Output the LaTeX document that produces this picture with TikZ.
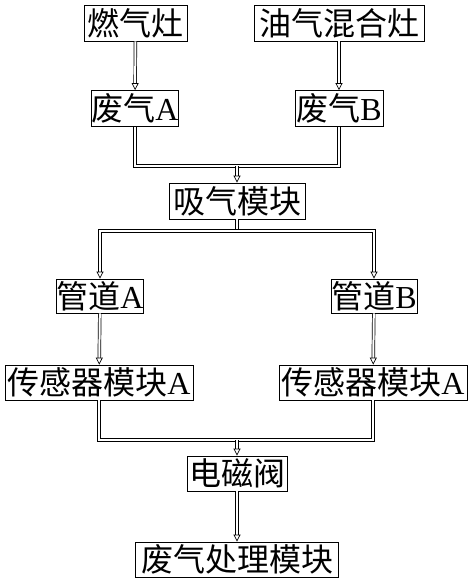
\documentclass[tikz,border=0pt]{standalone}
\usepackage{fontspec}
\setmainfont{Liberation Serif}
\newfontfamily\cjk{Noto Sans CJK SC}
\usepackage{tikz}
\usetikzlibrary{arrows.meta, positioning}
\tikzstyle{box} = [draw, line width=0.8pt, inner sep=0pt, minimum height=36pt, font=\fontsize{32}{32}\selectfont]
\tikzstyle{line} = [draw, line width=0.7pt, double, double distance=2pt]
\tikzstyle{arrow} = [line, -{Triangle[open, length=7pt, width=7pt]}]

\begin{document}
\begin{tikzpicture}[x=1pt, y=-1pt]
			\useasboundingbox (0,0) rectangle (474,583);
			\node [box, minimum width=103pt] (rq) at (135.5, 23) {\cjk 燃气灶};
			\node [box, minimum width=170pt] (yq) at (339, 23) {\cjk 油气混合灶};
			\node [box, minimum width=86pt] (fa) at (135, 108.5) {{\cjk 废气}A};
			\node [box, minimum width=88pt] (fb) at (339, 108.5) {{\cjk 废气}B};
			\node [box, minimum width=136pt] (xq) at (237, 201) {\cjk 吸气模块};
			\node [box, minimum width=86pt, minimum height=34pt] (ga) at (100, 296) {{\cjk 管道}A};
			\node [box, minimum width=86pt, minimum height=34pt] (gb) at (374, 296) {{\cjk 管道}B};
			\node [box, minimum width=188pt, minimum height=35pt] (sa) at (99, 382.5) {{\cjk 传感器模块}A};
			\node [box, minimum width=188pt, minimum height=35pt] (sb) at (373, 382.5) {{\cjk 传感器模块}A};
			\node [box, minimum width=100pt, minimum height=35pt] (dc) at (237, 473.5) {\cjk 电磁阀};
			\node [box, minimum width=203pt, minimum height=35pt] (cl) at (237, 559.5) {\cjk 废气处理模块};

			\coordinate (m1) at (237, 166);
			\coordinate (m2) at (237, 231);
			\coordinate (m3) at (237, 440);

			\path [arrow] (rq) -- (fa);
			\path [arrow] (yq) -- (fb);
			\path [line] (fa) |- (m1) -| (fb);
			\path [arrow] (m1) -- (xq);
			\path [line] (xq) -- (m2);
			\path [arrow] (m2) -| (ga);
			\path [arrow] (m2) -| (gb);
			\path [arrow] (ga) -- (sa);
			\path [arrow] (gb) -- (sb);
			\path [line] (sa) |- (m3) -| (sb);
			\path [arrow] (m3) -- (dc);
			\path [arrow] (dc) -- (cl);
		\end{tikzpicture}
\end{document}
